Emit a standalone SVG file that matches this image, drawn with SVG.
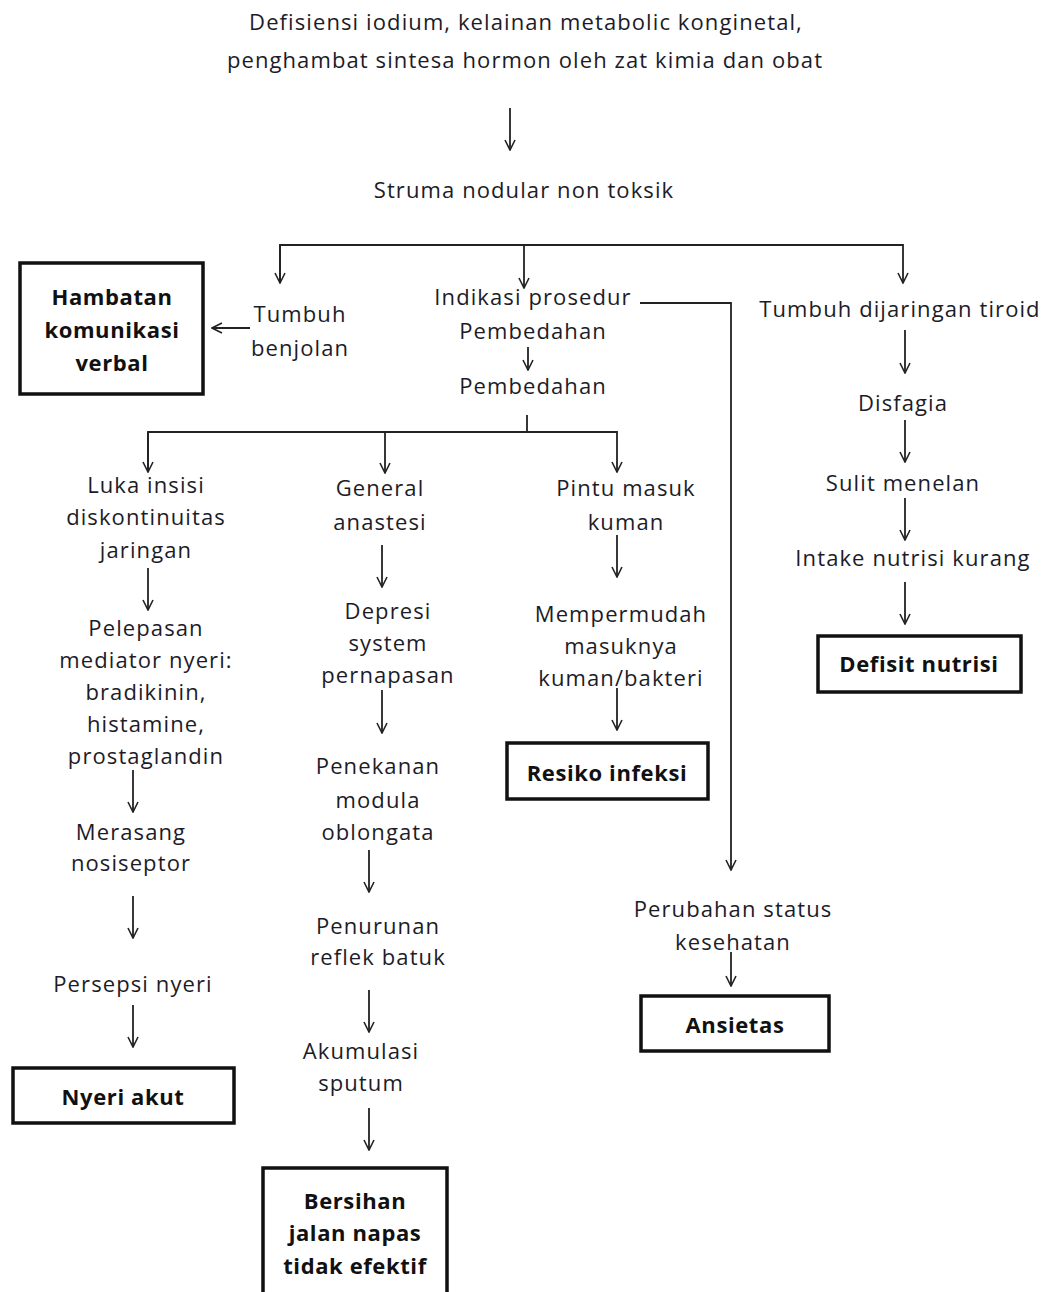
<svg xmlns="http://www.w3.org/2000/svg" width="1051" height="1292" viewBox="0 0 1051 1292">
<style>
text{font-family:"Open Sans","Noto Sans",sans-serif;font-size:22px;letter-spacing:1.1px;fill:#1c1c28;text-anchor:middle}
.b{font-weight:bold;fill:#111;letter-spacing:0.6px}
.box{fill:#fff;stroke:#111;stroke-width:3.5}
.c{fill:none;stroke:#222;stroke-width:1.8}
</style>
<defs>
<marker id="ah" viewBox="0 0 12 12" refX="11" refY="6" markerWidth="12" markerHeight="12" markerUnits="userSpaceOnUse" orient="auto">
<path d="M1,1 L11,6 L1,11" fill="none" stroke="#222" stroke-width="1.6"/>
</marker>
</defs>
<rect width="1051" height="1292" fill="#fff"/>
<g id="connectors">
<path class="c" d="M510,108 V150" marker-end="url(#ah)"/>
<path class="c" d="M280,283 V245 H903 V283" marker-end="url(#ah)"/>
<path class="c" d="M280,245 V283" marker-end="url(#ah)"/>
<path class="c" d="M524,245 V288" marker-end="url(#ah)"/>
<path class="c" d="M250,328 H212" marker-end="url(#ah)"/>
<path class="c" d="M528,347 V370" marker-end="url(#ah)"/>
<path class="c" d="M640,303 H731 V870" marker-end="url(#ah)"/>
<path class="c" d="M905,330 V373" marker-end="url(#ah)"/>
<path class="c" d="M905,420 V462" marker-end="url(#ah)"/>
<path class="c" d="M905,498 V540" marker-end="url(#ah)"/>
<path class="c" d="M905,582 V624" marker-end="url(#ah)"/>
<path class="c" d="M527,415 V432 M148,472 V432 H617 V472" marker-end="url(#ah)"/>
<path class="c" d="M148,432 V472" marker-end="url(#ah)"/>
<path class="c" d="M385,432 V473" marker-end="url(#ah)"/>
<path class="c" d="M148,568 V610" marker-end="url(#ah)"/>
<path class="c" d="M133,770 V812" marker-end="url(#ah)"/>
<path class="c" d="M133,896 V938" marker-end="url(#ah)"/>
<path class="c" d="M133,1005 V1047" marker-end="url(#ah)"/>
<path class="c" d="M382,545 V587" marker-end="url(#ah)"/>
<path class="c" d="M382,690 V733" marker-end="url(#ah)"/>
<path class="c" d="M369,850 V892" marker-end="url(#ah)"/>
<path class="c" d="M369,990 V1032" marker-end="url(#ah)"/>
<path class="c" d="M369,1108 V1150" marker-end="url(#ah)"/>
<path class="c" d="M617,535 V577" marker-end="url(#ah)"/>
<path class="c" d="M617,688 V730" marker-end="url(#ah)"/>
<path class="c" d="M731,952 V986" marker-end="url(#ah)"/>
</g>
<g id="n-cause"><text x="526" y="30">Defisiensi iodium, kelainan metabolic konginetal,</text><text x="525" y="68">penghambat sintesa hormon oleh zat kimia dan obat</text></g>
<g id="n-struma"><text x="524" y="198">Struma nodular non toksik</text></g>
<g id="n-hambatan"><rect class="box" x="20" y="263" width="183" height="131"/><text class="b" x="112" y="305">Hambatan</text><text class="b" x="112" y="338">komunikasi</text><text class="b" x="112" y="371">verbal</text></g>
<g id="n-tumbuh"><text x="300" y="322">Tumbuh</text><text x="300" y="356">benjolan</text></g>
<g id="n-indikasi"><text x="533" y="305">Indikasi prosedur</text><text x="533" y="339">Pembedahan</text></g>
<g id="n-pembedahan"><text x="533" y="394">Pembedahan</text></g>
<g id="n-tiroid"><text x="900" y="317">Tumbuh dijaringan tiroid</text></g>
<g id="n-disfagia"><text x="903" y="411">Disfagia</text></g>
<g id="n-sulit"><text x="903" y="491">Sulit menelan</text></g>
<g id="n-intake"><text x="913" y="566">Intake nutrisi kurang</text></g>
<g id="n-defisit"><rect class="box" x="818" y="636" width="203" height="56"/><text class="b" x="919" y="672">Defisit nutrisi</text></g>
<g id="n-luka"><text x="146" y="493">Luka insisi</text><text x="146" y="525">diskontinuitas</text><text x="146" y="558">jaringan</text></g>
<g id="n-pelepasan"><text x="146" y="636">Pelepasan</text><text x="146" y="668">mediator nyeri:</text><text x="146" y="700">bradikinin,</text><text x="146" y="732">histamine,</text><text x="146" y="764">prostaglandin</text></g>
<g id="n-merasang"><text x="131" y="840">Merasang</text><text x="131" y="871">nosiseptor</text></g>
<g id="n-persepsi"><text x="133" y="992">Persepsi nyeri</text></g>
<g id="n-nyeri"><rect class="box" x="13" y="1068" width="221" height="55"/><text class="b" x="123" y="1105">Nyeri akut</text></g>
<g id="n-general"><text x="380" y="496">General</text><text x="380" y="530">anastesi</text></g>
<g id="n-depresi"><text x="388" y="619">Depresi</text><text x="388" y="651">system</text><text x="388" y="683">pernapasan</text></g>
<g id="n-penekanan"><text x="378" y="774">Penekanan</text><text x="378" y="808">modula</text><text x="378" y="840">oblongata</text></g>
<g id="n-penurunan"><text x="378" y="934">Penurunan</text><text x="378" y="965">reflek batuk</text></g>
<g id="n-akumulasi"><text x="361" y="1059">Akumulasi</text><text x="361" y="1091">sputum</text></g>
<g id="n-bersihan"><rect class="box" x="263" y="1168" width="184" height="130"/><text class="b" x="355" y="1209">Bersihan</text><text class="b" x="355" y="1241">jalan napas</text><text class="b" x="355" y="1274">tidak efektif</text></g>
<g id="n-pintu"><text x="626" y="496">Pintu masuk</text><text x="626" y="530">kuman</text></g>
<g id="n-mempermudah"><text x="621" y="622">Mempermudah</text><text x="621" y="654">masuknya</text><text x="621" y="686">kuman/bakteri</text></g>
<g id="n-resiko"><rect class="box" x="507" y="743" width="201" height="56"/><text class="b" x="607" y="781">Resiko infeksi</text></g>
<g id="n-perubahan"><text x="733" y="917">Perubahan status</text><text x="733" y="950">kesehatan</text></g>
<g id="n-ansietas"><rect class="box" x="641" y="996" width="188" height="55"/><text class="b" x="735" y="1033">Ansietas</text></g>
</svg>
